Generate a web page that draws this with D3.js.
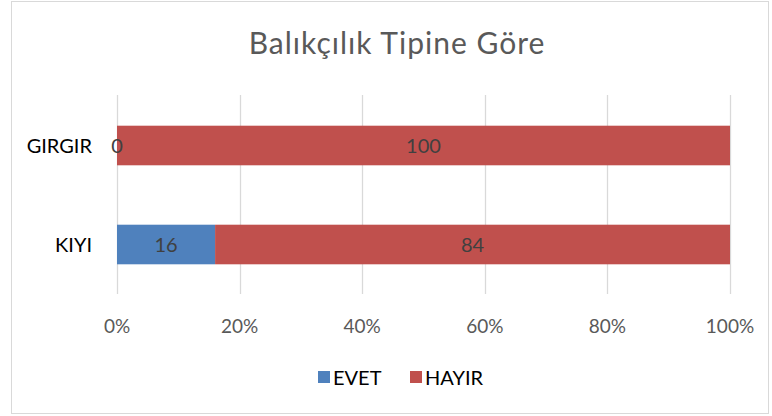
<!DOCTYPE html>
<html>
<head>
<meta charset="utf-8">
<script src="https://cdn.jsdelivr.net/npm/d3@7"></script>
<style>
  body { margin: 0; background: #fff; }
  text { font-family: Lato, "Open Sans", sans-serif; }
</style>
</head>
<body>
<div class="chart"></div>
<script>
'use strict';

var CATEGORIES = ['GIRGIR', 'KIYI'];
var SERIES = ['EVET', 'HAYIR'];
var EVET = [0, 16];
var HAYIR = [100, 84];
var TICKS = [0, 0.2, 0.4, 0.6, 0.8, 1];
var COLORS = ['#4f81bd', '#c0504d'];

var svg = d3.select('.chart').append('svg')
  .attr('width', 772)
  .attr('height', 416);

// chart frame
svg.append('rect')
  .attr('x', 11.5).attr('y', 1.5)
  .attr('width', 757).attr('height', 412)
  .style('fill', 'white')
  .style('stroke', '#d9d9d9');

svg.append('text')
  .attr('x', 397).attr('y', 54)
  .attr('text-anchor', 'middle')
  .style('font-size', '30px')
  .style('letter-spacing', '1px')
  .style('fill', '#595959')
  .text('Balıkçılık Tipine Göre');

var x = d3.scaleLinear().domain([0, 1]).range([117, 730]);
var y = d3.scaleBand().domain(CATEGORIES).range([96, 294]).paddingInner(0.6).paddingOuter(0.3);

// gridlines
svg.selectAll('line.grid')
  .data(TICKS)
  .enter().append('line')
  .attr('class', 'grid')
  .attr('x1', function(d) { return Math.round(x(d)) + 0.5; })
  .attr('x2', function(d) { return Math.round(x(d)) + 0.5; })
  .attr('y1', 95).attr('y2', 294)
  .style('stroke', '#d9d9d9')
  .style('stroke-width', 1.3);

// stacked rows
var rows = CATEGORIES.map(function(c, i) {
  var total = EVET[i] + HAYIR[i];
  return [
    { cat: c, s: 0, v: EVET[i], x0: 0, x1: EVET[i] / total },
    { cat: c, s: 1, v: HAYIR[i], x0: EVET[i] / total, x1: 1 }
  ];
});
var segs = d3.merge(rows);

svg.selectAll('rect.bar')
  .data(segs)
  .enter().append('rect')
  .attr('class', 'bar')
  .attr('x', function(d) { return x(d.x0); })
  .attr('width', function(d) { return x(d.x1) - x(d.x0); })
  .attr('y', function(d) { return y(d.cat); })
  .attr('height', y.bandwidth())
  .style('fill', function(d) { return COLORS[d.s]; });

svg.selectAll('text.val')
  .data(segs)
  .enter().append('text')
  .attr('class', 'val')
  .attr('x', function(d) { return (x(d.x0) + x(d.x1)) / 2; })
  .attr('y', function(d) { return y(d.cat) + y.bandwidth() / 2 + 7; })
  .attr('text-anchor', 'middle')
  .style('font-size', '20px')
  .style('fill', '#404040')
  .text(function(d) { return d.v; });

// category labels
svg.selectAll('text.cat')
  .data(CATEGORIES)
  .enter().append('text')
  .attr('class', 'cat')
  .attr('x', 92)
  .attr('y', function(d) { return y(d) + y.bandwidth() / 2 + 7; })
  .attr('text-anchor', 'end')
  .style('font-size', '20px')
  .style('fill', '#000')
  .text(function(d) { return d; });

// x axis labels
svg.selectAll('text.tick')
  .data(TICKS)
  .enter().append('text')
  .attr('class', 'tick')
  .attr('x', function(d) { return x(d); })
  .attr('y', 333)
  .attr('text-anchor', 'middle')
  .style('font-size', '19px')
  .style('fill', '#595959')
  .text(d3.format('.0%'));

// legend
var legend = svg.selectAll('g.legend')
  .data(SERIES)
  .enter().append('g')
  .attr('class', 'legend')
  .attr('transform', function(d, i) { return 'translate(' + [318, 410][i] + ',371)'; });
legend.append('rect')
  .attr('width', 12).attr('height', 12)
  .style('fill', function(d, i) { return COLORS[i]; });
legend.append('text')
  .attr('x', 15).attr('y', 14)
  .style('font-size', '20px')
  .style('fill', '#000')
  .text(function(d) { return d; });
</script>
</body>
</html>
